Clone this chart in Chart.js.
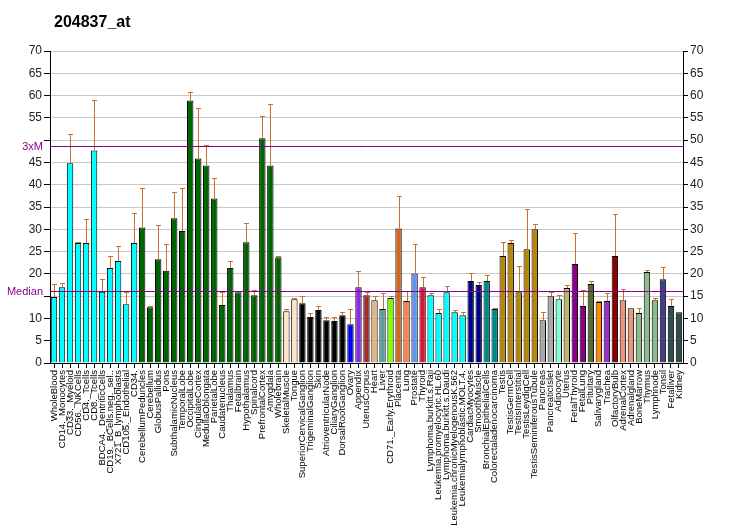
<!DOCTYPE html>
<html>
<head>
<meta charset="utf-8">
<script src="https://cdn.jsdelivr.net/npm/chart.js@4"></script>
<style>
  html, body { margin: 0; padding: 0; background: #fff; }
  canvas { display: block; }
</style>
</head>
<body>
<canvas id="chart" width="732" height="530"></canvas>
<script>
const TITLE = '204837_at';

const tissues = [
  'WholeBlood', 'CD14._Monocytes', 'CD33._Myeloid', 'CD56._NKCells', 'CD4._Tcells', 'CD8._Tcells',
  'BDCA4._DentriticCells', 'CD19._BCells.neg._sel..', 'X721_B_lymphoblasts', 'CD105._Endothelial', 'CD34.',
  'CerebellumPeduncles', 'Cerebellum', 'GlobusPallidus', 'Pons', 'SubthalamicNucleus', 'TemporalLobe',
  'OccipitalLobe', 'CingulateCortex', 'MedullaOblongata', 'ParietalLobe', 'Caudatenucleus', 'Thalamus',
  'Fetalbrain', 'Hypothalamus', 'Spinalcord', 'PrefrontalCortex', 'Amygdala', 'Wholebrain',
  'SkeletalMuscle', 'Tongue', 'SuperiorCervicalGanglion', 'TrigeminalGanglion', 'Skin',
  'AtrioventricularNode', 'CiliaryGanglion', 'DorsalRootGanglion', 'Ovary', 'Appendix', 'UterusCorpus',
  'Heart', 'Liver', 'CD71._Early.Erythroid', 'Placenta', 'Lung', 'Prostate', 'Thyroid',
  'Lymphoma.burkitt.s.Raji', 'Leukemia.promyelocytic.HL.60', 'Lymphoma.burkitt.s.Daudi',
  'Leukemia.chronicMyelogenousK.562', 'Leukemialymphoblastic.MOLT.4.', 'CardiacMyocytes', 'SmoothMuscle',
  'BronchialEpithelialCells', 'Colorectaladenocarcinoma', 'Testis', 'TestisGermCell', 'TestisInterstitial',
  'TestisLeydigCell', 'TestisSeminiferousTubule', 'Pancreas', 'PancreaticIslet', 'Adipocyte', 'Uterus',
  'FetalThyroid', 'FetalLung', 'Pituitary', 'Salivarygland', 'Trachea', 'OlfactoryBulb', 'AdrenalCortex',
  'Adrenalgland', 'BoneMarrow', 'Thymus', 'Lymphnode', 'Tonsil', 'Fetalliver', 'Kidney'
];

const values = [
  14.8, 17.0, 44.8, 26.9, 26.9, 47.7, 16.0, 21.3, 22.9, 13.2, 26.9,
  30.4, 12.5, 23.3, 20.7, 32.5, 29.6, 58.9, 45.9, 44.3, 36.9, 13.0, 21.3, 15.9, 27.1, 15.2, 50.4, 44.3, 23.7,
  11.6, 14.3, 13.4, 10.3, 11.9, 9.6, 9.4, 10.7, 8.7, 17.0, 15.2, 14.1, 12.1, 14.6, 30.2, 13.9, 20.1, 17.0,
  15.2, 11.2, 15.9, 11.4, 10.7, 18.4, 17.5, 18.4, 12.1, 24.0, 26.9, 15.9, 25.5, 30.0, 9.6, 15.0, 14.3, 16.8,
  22.2, 12.8, 17.7, 13.7, 13.9, 24.0, 14.1, 12.3, 11.2, 20.4, 14.1, 18.8, 12.8, 11.4
];

const errors = [
  2.9, 0.9, 6.6, 0.2, 5.3, 11.4, 2.8, 2.8, 3.4, 2.8, 6.7,
  8.8, 0.3, 7.6, 5.9, 5.8, 9.6, 2.0, 11.4, 4.7, 4.5, 2.9, 1.5, 0.2, 4.2, 1.1, 5.1, 13.7, 0.3,
  0.5, 0.3, 1.7, 0.9, 0.9, 0.7, 0.9, 0.7, 3.5, 3.6, 0.8, 0.9, 3.6, 0.4, 7.2, 2.2, 6.5, 2.3,
  0.5, 0.9, 1.3, 0.5, 0.7, 1.7, 0.6, 1.3, 0.2, 3.1, 0.6, 5.8, 9.0, 1.1, 1.8, 1.0, 0.9, 0.7,
  6.9, 3.5, 0.7, 0.2, 1.8, 9.4, 2.5, 0, 1.1, 0.4, 0.5, 2.7, 1.5, 0
];

const barColors = [
  '#00ffff', '#00ffff', '#00ffff', '#00ffff', '#00ffff', '#00ffff', '#00ffff', '#00ffff', '#00ffff', '#00ffff', '#00ffff',
  '#006400', '#006400', '#006400', '#006400', '#006400', '#006400', '#006400', '#006400', '#006400',
  '#006400', '#006400', '#006400', '#006400', '#006400', '#006400', '#006400', '#006400', '#006400',
  '#ffe4c4', '#ffe4c4',
  '#000000', '#000000', '#000000', '#000000', '#000000', '#000000',
  '#0000ff', '#8a2be2', '#a52a2a', '#deb887', '#5f9ea0', '#7fff00', '#d2691e', '#ff7f50', '#6495ed', '#dc143c',
  '#00ffff', '#00ffff', '#00ffff', '#00ffff', '#00ffff',
  '#00008b', '#00008b', '#008b8b', '#008b8b',
  '#b8860b', '#b8860b', '#b8860b', '#b8860b', '#b8860b',
  '#a9a9a9', '#a9a9a9', '#7fffd4', '#bdb76b', '#8b008b', '#8b008b', '#556b2f', '#ff8c00', '#9932cc', '#8b0000',
  '#e9967a', '#e9967a', '#8fbc8f', '#8fbc8f', '#8fbc8f', '#483d8b', '#2f4f4f', '#2f4f4f'
];

const Y_MIN = 0, Y_MAX = 70, Y_STEP = 5;
const MEDIAN = 16.2;
const THREE_X_M = 48.6;

const FONT = "'Liberation Sans', Arial, sans-serif";
const NARROW = "'Liberation Sans Narrow', 'Arial Narrow', 'Liberation Sans', Arial, sans-serif";
const ERR_COLOR = '#c8702e';
const REF_COLOR = '#8b008b';

// error bars, reference lines, title
const extras = {
  id: 'extras',
  afterDatasetsDraw(chart) {
    const ctx = chart.ctx, y = chart.scales.y, area = chart.chartArea;
    const meta = chart.getDatasetMeta(0);
    ctx.save();
    ctx.strokeStyle = ERR_COLOR;
    ctx.lineWidth = 1;
    meta.data.forEach((bar, i) => {
      if (!errors[i]) return;
      const x = Math.round(bar.x) + 0.5;
      const y0 = y.getPixelForValue(values[i]);
      const y1 = Math.round(y.getPixelForValue(values[i] + errors[i])) + 0.5;
      ctx.beginPath();
      ctx.moveTo(x, y0); ctx.lineTo(x, y1);
      ctx.moveTo(x - 2.5, y1); ctx.lineTo(x + 2.5, y1);
      ctx.stroke();
    });

    ctx.strokeStyle = REF_COLOR;
    ctx.fillStyle = REF_COLOR;
    ctx.font = '11px ' + FONT;
    ctx.textAlign = 'right';
    ctx.textBaseline = 'middle';
    [[THREE_X_M, '3xM'], [MEDIAN, 'Median']].forEach(([v, label]) => {
      const py = Math.round(y.getPixelForValue(v)) + 0.5;
      ctx.beginPath();
      ctx.moveTo(area.left, py); ctx.lineTo(area.right, py);
      ctx.stroke();
      ctx.fillText(label, 43, py);
    });

    ctx.fillStyle = '#000';
    ctx.textAlign = 'left';
    ctx.textBaseline = 'alphabetic';
    ctx.font = 'bold 16px ' + FONT;
    ctx.fillText(TITLE, 54, 27);
    ctx.restore();
  }
};

new Chart(document.getElementById('chart'), {
  type: 'bar',
  data: {
    labels: tissues,
    datasets: [{
      data: values,
      backgroundColor: barColors,
      borderColor: '#000',
      borderWidth: 1,
      barPercentage: 0.8,
      categoryPercentage: 1.0
    }]
  },
  options: {
    responsive: false,
    animation: false,
    layout: { padding: { top: 51, left: 0, right: 0, bottom: 0 } },
    plugins: { legend: { display: false }, tooltip: { enabled: false } },
    scales: {
      x: {
        afterFit: (s) => { s.height = 167; },
        border: { color: '#000' },
        grid: { display: true, drawOnChartArea: false, offset: false, tickLength: 5, tickColor: '#000' },
        ticks: { autoSkip: false, minRotation: 90, maxRotation: 90, padding: 2, color: '#000',
          font: { family: NARROW, size: 9.5 } }
      },
      y: {
        position: 'left',
        min: Y_MIN, max: Y_MAX,
        afterFit: (s) => { s.width = 50; },
        border: { color: '#000' },
        grid: { color: '#c8c8c8', tickColor: '#000', tickLength: 6 },
        ticks: { stepSize: Y_STEP, padding: 2, color: '#222', font: { family: FONT, size: 12 },
          callback: (v) => (v === 15 || v === 50) ? '' : v }
      },
      y2: {
        position: 'right',
        min: Y_MIN, max: Y_MAX,
        afterFit: (s) => { s.width = 49; },
        border: { color: '#000' },
        grid: { drawOnChartArea: false, tickColor: '#000', tickLength: 5 },
        ticks: { stepSize: Y_STEP, padding: 2, color: '#222', font: { family: FONT, size: 12 } }
      }
    }
  },
  plugins: [extras]
});
</script>
</body>
</html>
